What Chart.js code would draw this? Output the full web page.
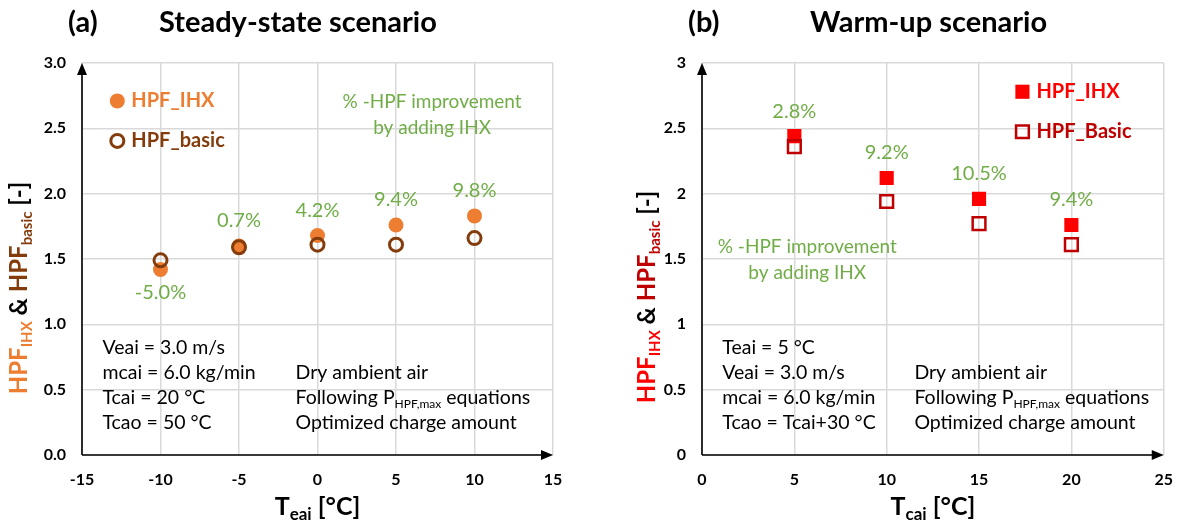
<!DOCTYPE html>
<html>
<head>
<meta charset="utf-8">
<script src="https://cdn.jsdelivr.net/npm/chart.js@4.4.1/dist/chart.umd.min.js"></script>
<style>
  body { margin: 0; background: #fff; }
  #wrap { position: relative; width: 1188px; height: 525px; }
  canvas { position: absolute; top: 0; }
</style>
</head>
<body>
<div id="wrap">
  <canvas id="steady" width="594" height="525" style="left:0"></canvas>
  <canvas id="warm" width="594" height="525" style="left:594px"></canvas>
</div>
<script>
// (a) steady-state: HPF vs evaporator inlet air temperature
const steadyTemps = [-10, -5, 0, 5, 10];
const steadyIHX = [1.42, 1.60, 1.68, 1.76, 1.83];
const steadyBasic = [1.49, 1.59, 1.61, 1.61, 1.66];
const steadyGain = ["-5.0%", "0.7%", "4.2%", "9.4%", "9.8%"];
const steadyXTicks = ["-15", "-10", "-5", "0", "5", "10", "15"];
const steadyYTicks = ["0.0", "0.5", "1.0", "1.5", "2.0", "2.5", "3.0"];

// (b) warm-up: HPF vs condenser inlet air temperature
const warmTemps = [5, 10, 15, 20];
const warmIHX = [2.44, 2.12, 1.96, 1.76];
const warmBasic = [2.36, 1.94, 1.77, 1.61];
const warmGain = ["2.8%", "9.2%", "10.5%", "9.4%"];
const warmXTicks = ["0", "5", "10", "15", "20", "25"];
const warmYTicks = ["0", "0.5", "1", "1.5", "2", "2.5", "3"];

const FONT = "Lato, 'Open Sans', sans-serif";
const GREEN = "#70AD47";
const GRID = "#d9d9d9";

function f(size, bold) {
  return (bold ? "bold " : "") + size + "px " + FONT;
}

// draws a row of text pieces (for subscripts)
function rich(ctx, segs, x, y, align) {
  let w = 0;
  segs.forEach((s) => {
    ctx.font = s.font;
    s.w = ctx.measureText(s.t).width;
    w += s.w;
  });
  let cx = align === "center" ? x - w / 2 : x;
  ctx.textAlign = "left";
  ctx.textBaseline = "alphabetic";
  segs.forEach((s) => {
    ctx.font = s.font;
    ctx.fillStyle = s.color;
    ctx.fillText(s.t, cx, y + (s.dy || 0));
    cx += s.w;
  });
}

function marker(ctx, style, x, y, r, fill, stroke, lw) {
  ctx.save();
  ctx.beginPath();
  if (style === "circle") {
    ctx.arc(x, y, r, 0, Math.PI * 2);
  } else {
    const s = r * Math.SQRT1_2;
    ctx.rect(x - s, y - s, 2 * s, 2 * s);
  }
  if (fill) {
    ctx.fillStyle = fill;
    ctx.fill();
  }
  if (stroke) {
    ctx.strokeStyle = stroke;
    ctx.lineWidth = lw;
    ctx.stroke();
  }
  ctx.restore();
}

function decorPlugin(p) {
  return {
    id: "decor",
    beforeDatasetsDraw(chart) {
      const { ctx, chartArea: a } = chart;
      ctx.save();
      ctx.strokeStyle = "#000";
      ctx.fillStyle = "#000";
      ctx.lineWidth = 1.6;
      ctx.beginPath();
      ctx.moveTo(a.left, a.bottom);
      ctx.lineTo(a.left, a.top + 8);
      ctx.moveTo(a.left, a.bottom);
      ctx.lineTo(a.right - 8, a.bottom);
      ctx.stroke();
      ctx.beginPath();
      ctx.moveTo(a.left, a.top);
      ctx.lineTo(a.left - 5, a.top + 12);
      ctx.lineTo(a.left + 5, a.top + 12);
      ctx.closePath();
      ctx.fill();
      ctx.beginPath();
      ctx.moveTo(a.right, a.bottom);
      ctx.lineTo(a.right - 12, a.bottom - 5);
      ctx.lineTo(a.right - 12, a.bottom + 5);
      ctx.closePath();
      ctx.fill();
      ctx.restore();
    },
    afterDraw(chart) {
      const { ctx, chartArea: a } = chart;
      const sx = chart.scales.x, sy = chart.scales.y;
      const X = (v) => sx.getPixelForValue(v);
      const Y = (v) => sy.getPixelForValue(v);
      ctx.save();

      // panel title
      ctx.fillStyle = "#000";
      ctx.font = f(29, true);
      ctx.textAlign = "left";
      ctx.textBaseline = "alphabetic";
      ctx.fillText(p.tag, p.tagX, 32);
      ctx.fillText(p.title, p.titleX, 32);

      // y axis title (rotated)
      ctx.save();
      ctx.translate(p.yTitleX, p.yTitleY);
      ctx.rotate(-Math.PI / 2);
      rich(ctx, [
        { t: "HPF", font: f(24, true), color: p.ihxColor },
        { t: "IHX", font: f(15, true), color: p.ihxColor, dy: 5 },
        { t: " & ", font: f(24, true), color: "#000" },
        { t: "HPF", font: f(24, true), color: p.basicColor },
        { t: "basic", font: f(15, true), color: p.basicColor, dy: 5 },
        { t: " [-]", font: f(24, true), color: "#000" },
      ], 0, 0, "center");
      ctx.restore();

      // x axis title
      rich(ctx, [
        { t: "T", font: f(25, true), color: "#000" },
        { t: p.xSub, font: f(17, true), color: "#000", dy: 5 },
        { t: " [°C]", font: f(25, true), color: "#000" },
      ], (a.left + a.right) / 2, 515, "center");

      // improvement labels above/below the points
      ctx.font = f(20, false);
      ctx.fillStyle = GREEN;
      ctx.textAlign = "center";
      ctx.textBaseline = "middle";
      p.temps.forEach((t, i) => {
        const neg = p.gain[i].charAt(0) === "-";
        const yv = neg ? Math.min(p.ihx[i], p.basic[i]) : Math.max(p.ihx[i], p.basic[i]);
        ctx.fillText(p.gain[i], X(t), Y(yv) + (neg ? 23 : -25));
      });

      // improvement note
      ctx.font = f(19, false);
      ctx.fillText("% -HPF improvement", X(p.noteX), Y(p.noteY));
      ctx.fillText("by adding IHX", X(p.noteX), Y(p.noteY) + 26);

      // legend
      const lx = X(p.legX), ly1 = Y(p.legY), ly2 = ly1 + 40;
      if (p.style === "circle") {
        marker(ctx, "circle", lx, ly1, 7.5, p.ihxColor, null, 0);
        marker(ctx, "circle", lx, ly2, 6.5, null, p.basicColor, 3);
      } else {
        marker(ctx, "rect", lx, ly1, 10, p.ihxColor, null, 0);
        marker(ctx, "rect", lx, ly2, 9, null, p.basicColor, 2.5);
      }
      ctx.font = f(20, true);
      ctx.textAlign = "left";
      ctx.fillStyle = p.ihxColor;
      ctx.fillText("HPF_IHX", lx + 14, ly1);
      ctx.fillStyle = p.basicColor;
      ctx.fillText(p.basicName, lx + 14, ly2);

      // operating conditions
      const rowY = (k) => Y(0.85) + 3 + k * 25;
      const nx1 = X(p.condX1), nx2 = X(p.condX2);
      const body = f(19.5, false);
      p.condLeft.forEach((s, k) => {
        rich(ctx, [{ t: s, font: body, color: "#000" }], nx1, rowY(k) + 7, "left");
      });
      const sub = { font: f(12, false), color: "#000", dy: 4 };
      rich(ctx, [{ t: "Dry ambient air", font: body, color: "#000" }], nx2, rowY(1) + 7, "left");
      rich(ctx, [
        { t: "Following P", font: body, color: "#000" },
        Object.assign({ t: "HPF,max" }, sub),
        { t: " equations", font: body, color: "#000" },
      ], nx2, rowY(2) + 7, "left");
      rich(ctx, [{ t: "Optimized charge amount", font: body, color: "#000" }], nx2, rowY(3) + 7, "left");

      ctx.restore();
    },
  };
}

function makePanel(id, p) {
  const tickFont = { family: FONT, size: 16, weight: "bold" };
  new Chart(document.getElementById(id), {
    type: "scatter",
    data: {
      datasets: [
        {
          data: p.temps.map((t, i) => ({ x: t, y: p.basic[i] })),
          pointStyle: p.style,
          pointRadius: p.style === "circle" ? 6.5 : 9,
          pointBorderWidth: p.style === "circle" ? 3 : 2.5,
          pointBorderColor: p.basicColor,
          pointBackgroundColor: "rgba(0,0,0,0)",
        },
        {
          data: p.temps.map((t, i) => ({ x: t, y: p.ihx[i] })),
          pointStyle: p.style,
          pointRadius: p.style === "circle" ? 7.5 : 10,
          pointBorderWidth: 0,
          pointBackgroundColor: p.ihxColor,
        },
      ],
    },
    options: {
      responsive: false,
      animation: false,
      devicePixelRatio: 1,
      layout: { padding: p.padding },
      plugins: { legend: { display: false }, tooltip: { enabled: false } },
      scales: {
        x: {
          type: "linear",
          min: p.xMin,
          max: p.xMax,
          afterFit: (s) => { s.height = 40; },
          ticks: {
            stepSize: 5,
            padding: 15,
            color: "#000",
            font: tickFont,
            maxRotation: 0,
            callback: (v, i) => p.xTicks[i],
          },
          grid: { color: GRID, lineWidth: 1.5, drawTicks: false },
          border: { display: false },
        },
        y: {
          min: 0,
          max: 3,
          afterFit: (s) => { s.width = 42; },
          ticks: {
            stepSize: 0.5,
            padding: 16,
            color: "#000",
            font: tickFont,
            callback: (v, i) => p.yTicks[i],
          },
          grid: { color: GRID, lineWidth: 1.5, drawTicks: false },
          border: { display: false },
        },
      },
    },
    plugins: [decorPlugin(p)],
  });
}

makePanel("steady", {
  temps: steadyTemps, ihx: steadyIHX, basic: steadyBasic, gain: steadyGain,
  xTicks: steadyXTicks, yTicks: steadyYTicks, xMin: -15, xMax: 15,
  padding: { left: 40, right: 41, top: 63, bottom: 30 },
  style: "circle", ihxColor: "#ED7D31", basicColor: "#843C0C", basicName: "HPF_basic",
  tag: "(a)", tagX: 68, title: "Steady-state scenario", titleX: 159,
  yTitleX: 27, yTitleY: 288, xSub: "eai",
  noteX: 7.3, noteY: 2.70, legX: -12.75, legY: 2.71,
  condX1: -13.7, condX2: -1.4,
  condLeft: ["Veai = 3.0 m/s", "mcai = 6.0 kg/min", "Tcai = 20 °C", "Tcao = 50 °C"],
});

makePanel("warm", {
  temps: warmTemps, ihx: warmIHX, basic: warmBasic, gain: warmGain,
  xTicks: warmXTicks, yTicks: warmYTicks, xMin: 0, xMax: 25,
  padding: { left: 66, right: 15, top: 63, bottom: 30 },
  style: "rect", ihxColor: "#FF0000", basicColor: "#C00000", basicName: "HPF_Basic",
  tag: "(b)", tagX: 94, title: "Warm-up scenario", titleX: 216,
  yTitleX: 61, yTitleY: 297, xSub: "cai",
  noteX: 5.7, noteY: 1.59, legX: 17.35, legY: 2.78,
  condX1: 1.1, condX2: 11.5,
  condLeft: ["Teai = 5 °C", "Veai = 3.0 m/s", "mcai = 6.0 kg/min", "Tcao = Tcai+30 °C"],
});
</script>
</body>
</html>
